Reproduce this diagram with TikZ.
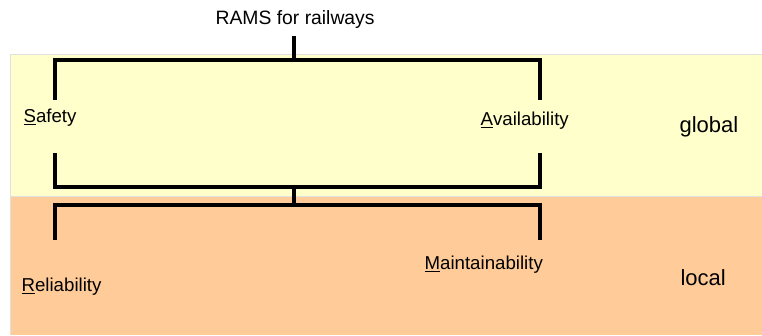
\documentclass[tikz,border=0pt]{standalone}
\usepackage{fontspec}
\setmainfont{Liberation Sans}
\usepackage{tikz}
\usetikzlibrary{calc}

\definecolor{bandyellow}{HTML}{FFFFCC}
\definecolor{bandorange}{HTML}{FFCC99}

\tikzset{
  lbl/.style={font=\fontsize{14}{17}\selectfont, inner sep=0pt, anchor=base west},
  lvl/.style={font=\fontsize{16.5}{20}\selectfont, inner sep=0pt, anchor=base west}
}

\begin{document}
\begin{tikzpicture}[x=0.75pt,y=-0.75pt,line width=2.4pt]
\useasboundingbox (0,0) rectangle (762,335);
% bands
\fill[bandyellow] (10,54) rectangle (762,196);
\fill[bandorange] (10,196) rectangle (762,335);
\draw[line width=0.6pt, black!12] (762,54) -- (10,54) -- (10,335);
\draw[line width=0.6pt, black!12] (10,196) -- (762,196);
% labels
\node[lbl, font=\fontsize{14.5}{17}\selectfont] (rams) at (214,25) {RAMS for railways};
\node[lbl] (safety) at (22,122) {\underline{S}afety};
\node[lbl] (avail) at (479,125) {\underline{A}vailability};
\node[lbl] (reliab) at (20,291) {\underline{R}eliability};
\node[lbl] (maint) at (423,269) {\underline{M}aintainability};
\node[lvl] (global) at (678,132) {global};
\node[lvl] (local) at (679,285) {local};
% bracket ends
\coordinate (s0) at (294,36); \coordinate (s1) at (294,60);
\coordinate (sa1) at (55,100); \coordinate (av1) at (540,100);
\coordinate (sa2) at (55,153); \coordinate (av2) at (540,153);
\coordinate (g1) at (294,187); \coordinate (g2) at (294,205);
\coordinate (re1) at (55,240); \coordinate (ma1) at (540,240);
% brackets
\draw (s0) -- (s1);
\draw (sa1) -- (sa1 |- s1) -- (av1 |- s1) -- (av1);
\draw (sa2) -- (sa2 |- g1) -- (av2 |- g1) -- (av2);
\draw (g1) -- (g2);
\draw (re1) -- (re1 |- g2) -- (ma1 |- g2) -- (ma1);
\end{tikzpicture}
\end{document}
